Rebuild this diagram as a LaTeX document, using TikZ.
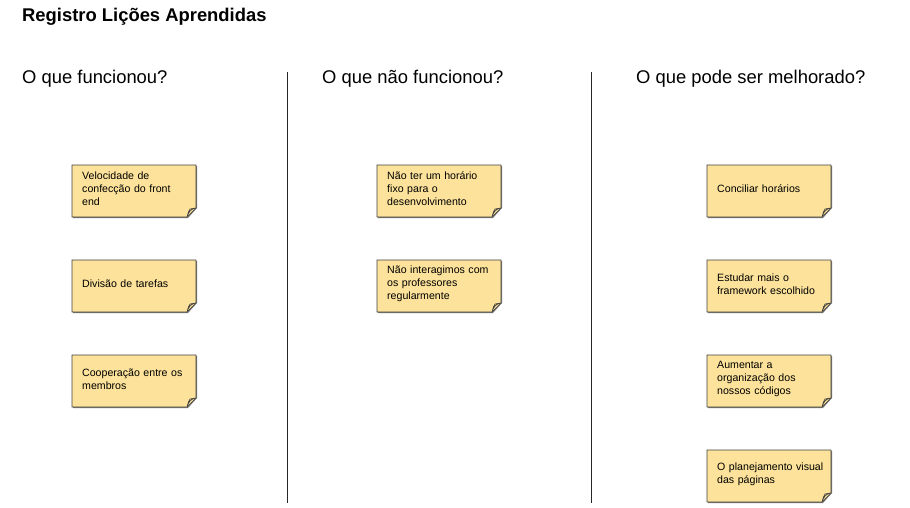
\documentclass[tikz,border=0pt]{standalone}
\usepackage{fontspec}
\setmainfont{Liberation Sans}
\begin{document}
\begin{tikzpicture}[x=1pt,y=-1pt,
  notetext/.style={font=\fontsize{10.6}{13}\selectfont, align=left, text width=112pt, anchor=west, inner sep=0pt},
  heading/.style={font=\fontsize{18.4}{22}\selectfont, anchor=west, inner sep=0pt},
  divider/.style={draw=black!85, line width=1pt}]
\useasboundingbox (0,0) rectangle (910,508);
\newcommand{\stickynote}[4]{% name, x, y, text
  \fill[fill=black!55] (#2+1,#3+1) -- (#2+125,#3+1) -- (#2+125,#3+43) -- (#2+116,#3+53) -- (#2+1,#3+53) -- cycle;
  \draw[fill={rgb,255:red,252;green,226;blue,154}, draw=black!75, line width=0.6pt]
    (#2,#3) -- (#2+124,#3) -- (#2+124,#3+43) -- (#2+115,#3+52) -- (#2,#3+52) -- cycle;
  \draw[fill={rgb,255:red,214;green,190;blue,128}, draw=black!75, line width=0.6pt]
    (#2+124,#3+43) .. controls (#2+119,#3+44) and (#2+117,#3+46) .. (#2+115,#3+52)
    .. controls (#2+116,#3+48) and (#2+117,#3+45) .. (#2+118,#3+44) -- cycle;
  \node[notetext] (#1) at (#2+10,#3+24) {#4};
}
\node[anchor=west, inner sep=0pt, font=\fontsize{18.4}{22}\bfseries] (title) at (22,17) {Registro Lições Aprendidas};
\node[heading] (h1) at (22,78.5) {O que funcionou?};
\node[heading] (h2) at (322,78.5) {O que não funcionou?};
\node[heading] (h3) at (636,78.5) {O que pode ser melhorado?};
\coordinate (d1t) at (287,72); \coordinate (d1b) at (287,503);
\coordinate (d2t) at (591,72); \coordinate (d2b) at (591,503);
\draw[divider] (d1t) -- (d1b);
\draw[divider] (d2t) -- (d2b);
\stickynote{a1}{72}{165}{Velocidade de\\confecção do front\\end}
\stickynote{a2}{72}{260}{Divisão de tarefas}
\stickynote{a3}{72}{355}{Cooperação entre os\\membros}
\stickynote{b1}{377}{165}{Não ter um horário\\fixo para o\\desenvolvimento}
\stickynote{b2}{377}{260}{Não interagimos com\\os professores\\regularmente}
\stickynote{c1}{707}{165}{Conciliar horários}
\stickynote{c2}{707}{260}{Estudar mais o\\framework escolhido}
\stickynote{c3}{707}{355}{Aumentar a\\organização dos\\nossos códigos}
\stickynote{c4}{707}{450}{O planejamento visual\\das páginas}
\end{tikzpicture}
\end{document}
